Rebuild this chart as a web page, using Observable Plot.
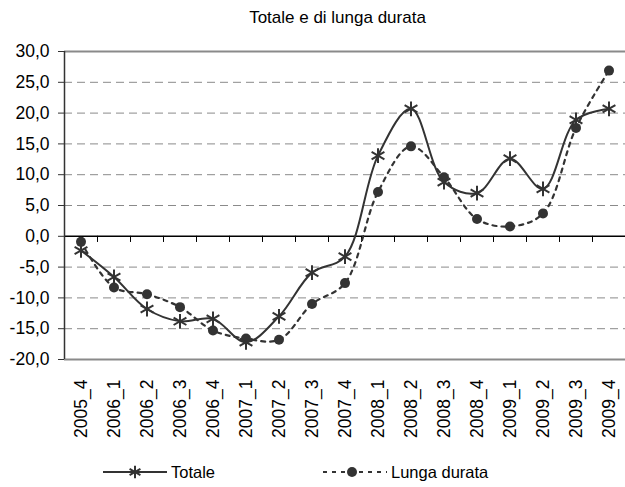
<!DOCTYPE html>
<html>
<head>
<meta charset="utf-8">
<script src="https://cdn.jsdelivr.net/npm/d3@7"></script>
<script src="https://cdn.jsdelivr.net/npm/@observablehq/plot@0.6"></script>
<style>
  html, body { margin: 0; padding: 0; background: #fff; }
  #wrap { width: 625px; height: 487px; position: relative; font-family: "Liberation Sans", Arial, sans-serif; color: #000; }
  #title { height: 34px; box-sizing: border-box; padding-top: 8px; padding-left: 50px; text-align: center; font-size: 17px; line-height: 19px; }
  #chart svg { display: block; }
  #legend { position: relative; height: 37px; font-size: 16.5px; }
  .lg { position: absolute; top: 12px; height: 20px; display: flex; align-items: center; }
  .lg svg { display: block; }
</style>
</head>
<body>
<div id="wrap">
  <div id="title">Totale e di lunga durata</div>
  <div id="chart"></div>
  <div id="legend"></div>
</div>
<script>
const categories = ["2005_4","2006_1","2006_2","2006_3","2006_4","2007_1","2007_2","2007_3","2007_4","2008_1","2008_2","2008_3","2008_4","2009_1","2009_2","2009_3","2009_4"];
const totale = [-2.3, -6.6, -11.8, -13.8, -13.4, -17.2, -13.0, -5.9, -3.3, 13.1, 20.7, 8.8, 7.0, 12.6, 7.7, 18.9, 20.7];
const lungaDurata = [-0.9, -8.3, -9.4, -11.5, -15.3, -16.6, -16.8, -11.0, -7.6, 7.2, 14.6, 9.6, 2.8, 1.6, 3.7, 17.6, 26.9];
const yTicks = [-20, -15, -10, -5, 0, 5, 10, 15, 20, 25, 30];
const seriesNames = ["Totale", "Lunga durata"];

const n = categories.length;
const rows = categories.map((c, i) => ({i, c, totale: totale[i], lunga: lungaDurata[i]}));
const xDomain = [-0.5, n - 0.5];
const boundaries = d3.range(1, n).map(i => i - 0.5);
const yMin = yTicks[0], yMax = yTicks[yTicks.length - 1];
const fmt = v => v.toFixed(1).replace(".", ",");
const ink = "#333";

const chart = Plot.plot({
  width: 625,
  height: 416,
  marginTop: 17,
  marginBottom: 91,
  marginLeft: 64,
  marginRight: 0,
  style: {fontFamily: "'Liberation Sans', Arial, sans-serif", fontSize: "16px", color: "#000", background: "#fff", overflow: "visible"},
  x: {domain: xDomain, label: null},
  y: {domain: [yMin, yMax], label: null},
  marks: [
    Plot.ruleY(yTicks.filter(v => v !== 0 && v !== yMin && v !== yMax), {stroke: "#8a8a8a", strokeWidth: 1, strokeDasharray: "8,5"}),
    Plot.ruleY([yMin, yMax], {stroke: "#8a8a8a", strokeWidth: 2}),
    Plot.ruleY([0], {stroke: "#000", strokeWidth: 1.5}),
    Plot.ruleX(boundaries, {y1: 0, y2: -1, stroke: "#000", strokeWidth: 1}),
    Plot.ruleX([xDomain[0]], {stroke: ink, strokeWidth: 1.5}),
    Plot.axisY({ticks: yTicks, tickFormat: fmt, tickSize: 6, tickPadding: 9, stroke: ink, fontSize: 17.5, label: null}),
    Plot.axisX({ticks: d3.range(n), tickFormat: i => categories[i], tickRotate: -90, tickSize: 0, tickPadding: 20, fontSize: 17.5, label: null}),
    Plot.line(rows, {x: "i", y: "lunga", curve: "catmull-rom", stroke: ink, strokeWidth: 2.2, strokeDasharray: "4,5"}),
    Plot.dot(rows, {x: "i", y: "lunga", r: 5, fill: ink, stroke: "none"}),
    Plot.line(rows, {x: "i", y: "totale", curve: "catmull-rom", stroke: ink, strokeWidth: 2}),
    Plot.dot(rows, {x: "i", y: "totale", symbol: "asterisk", r: 7, stroke: ink, strokeWidth: 2})
  ]
});
document.getElementById("chart").appendChild(chart);

// Legend
const legend = document.getElementById("legend");
function addItem(left, name, dashed, symbolType) {
  const item = document.createElement("div");
  item.className = "lg";
  item.style.left = left + "px";
  const svg = d3.create("svg").attr("width", 66).attr("height", 20);
  svg.append("line").attr("x1", 1).attr("x2", 65).attr("y1", 10).attr("y2", 10)
    .attr("stroke", ink).attr("stroke-width", 2).attr("stroke-dasharray", dashed ? "4,5" : null);
  if (symbolType === "asterisk") {
    svg.append("path").attr("transform", "translate(33,10)")
      .attr("d", d3.symbol(d3.symbolAsterisk, 110)()).attr("stroke", ink).attr("stroke-width", 2).attr("fill", "none");
  } else {
    svg.append("circle").attr("cx", 30).attr("cy", 10).attr("r", 5).attr("fill", ink);
  }
  item.appendChild(svg.node());
  const t = document.createElement("span");
  t.textContent = name;
  t.style.marginLeft = "3px";
  item.appendChild(t);
  legend.appendChild(item);
}
addItem(102, seriesNames[0], false, "asterisk");
addItem(322, seriesNames[1], true, "circle");
</script>
</body>
</html>
